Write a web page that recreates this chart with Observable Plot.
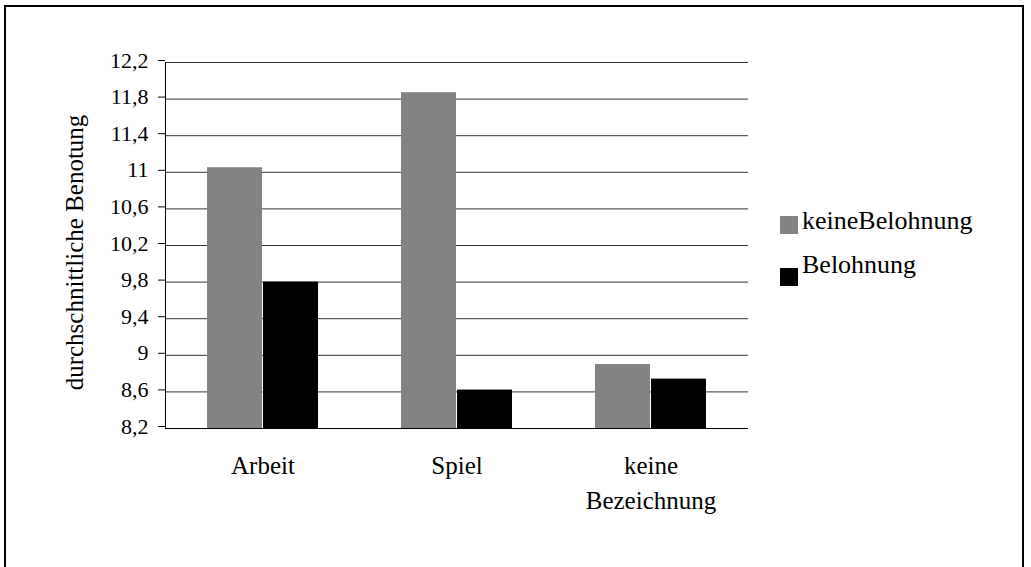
<!DOCTYPE html>
<html>
<head>
<meta charset="utf-8">
<script src="https://cdn.jsdelivr.net/npm/d3@7"></script>
<script src="https://cdn.jsdelivr.net/npm/@observablehq/plot@0.6"></script>
<style>
  html, body { margin: 0; padding: 0; background: #fff; overflow: hidden; }
  #wrap { position: relative; width: 1031px; height: 567px; font-family: 'Liberation Serif', 'Times New Roman', serif; }
  #border { position: absolute; left: 4px; top: 5px; width: 1020px; height: 620px; border: 2px solid #000; box-sizing: border-box; pointer-events: none; }
  .leg { position: absolute; left: 780px; font-family: 'Liberation Serif', serif; font-size: 26px; color: #000; white-space: nowrap; }
  .sw { position: absolute; left: 0; width: 18px; height: 18px; }
  .leg span.t { position: absolute; left: 22px; top: 0; }
</style>
</head>
<body>
<div id="wrap">
  <div id="chart"></div>
  <div id="legend"></div>
  <div id="border"></div>
</div>
<script>
// ---- data ----
const categories = ["Arbeit", "Spiel", "keine Bezeichnung"];
const categoryLabels = ["Arbeit", "Spiel", "keine\nBezeichnung"];
const seriesNames = ["keineBelohnung", "Belohnung"];
const keineBelohnung = [11.05, 11.87, 8.90];
const belohnung = [9.80, 8.62, 8.74];
const yTicks = [8.2, 8.6, 9.0, 9.4, 9.8, 10.2, 10.6, 11.0, 11.4, 11.8, 12.2];
const yTickLabels = ["8,2", "8,6", "9", "9,4", "9,8", "10,2", "10,6", "11", "11,4", "11,8", "12,2"];
const yMin = 8.2, yMax = 12.2;
const yLabel = "durchschnittliche Benotung";
const colors = ["#838383", "#000000"];

const rows = [];
categories.forEach((c, i) => {
  rows.push({category: c, series: seriesNames[0], value: keineBelohnung[i]});
  rows.push({category: c, series: seriesNames[1], value: belohnung[i]});
});

const font = "'Liberation Serif', 'Times New Roman', serif";
const half = 56;

const chart = Plot.plot({
  width: 1031,
  height: 567,
  marginLeft: 165,
  marginRight: 283,
  marginTop: 62,
  marginBottom: 139,
  style: {fontFamily: font, background: "transparent", color: "#000"},
  x: {domain: categories, paddingInner: 0.426, paddingOuter: 0.213, axis: null},
  y: {domain: [yMin, yMax], axis: null},
  color: {domain: seriesNames, range: colors},
  marks: [
    Plot.gridY(yTicks, {stroke: "#000", strokeOpacity: 0.8, strokeWidth: 1}),
    Plot.barY(rows.filter(d => d.series === seriesNames[0]), {
      x: "category", y1: () => yMin, y2: "value", fill: "series", insetRight: half
    }),
    Plot.barY(rows.filter(d => d.series === seriesNames[1]), {
      x: "category", y1: () => yMin, y2: "value", fill: "series", insetLeft: half
    }),
    Plot.ruleY([yMin], {stroke: "#000", strokeWidth: 1}),
    Plot.frame({anchor: "left", stroke: "#000", strokeWidth: 1}),
    Plot.axisY({
      ticks: yTicks,
      tickSize: 7,
      tickPadding: 10,
      fontSize: 22,
      fontFamily: font,
      dy: -2,
      tickFormat: d => yTickLabels[yTicks.findIndex(t => Math.abs(t - d) < 1e-9)],
      label: null
    }),
    Plot.axisX({
      tickSize: 0,
      tickPadding: 21,
      fontSize: 25,
      fontFamily: font,
      lineHeight: 1.4,
      tickFormat: d => categoryLabels[categories.indexOf(d)],
      label: null
    }),
    Plot.text([yLabel], {
      text: d => d, frameAnchor: "left", textAnchor: "middle", lineAnchor: "middle",
      rotate: -90, dx: -91, dy: 7, fontSize: 25, fontFamily: font, fill: "#000"
    })
  ]
});
document.getElementById("chart").appendChild(chart);

// ---- legend ----
const legend = document.getElementById("legend");
const legTops = [206, 250];
seriesNames.forEach((s, i) => {
  const d = document.createElement("div");
  d.className = "leg";
  d.style.top = legTops[i] + "px";
  d.innerHTML = `<div class="sw" style="top:${10 + i * 8}px;background:${colors[i]}"></div><span class="t">${s}</span>`;
  legend.appendChild(d);
});
</script>
</body>
</html>
